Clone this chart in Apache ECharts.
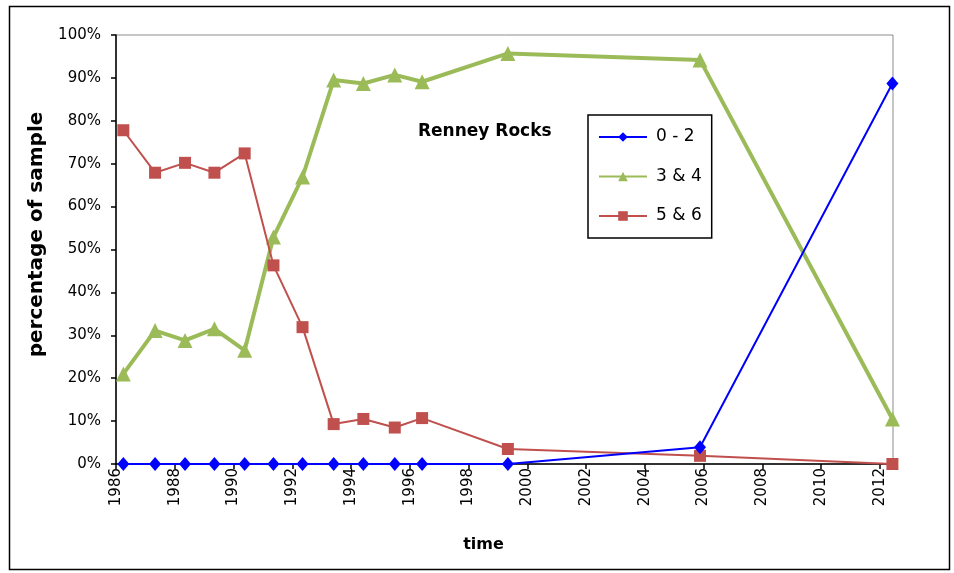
<!DOCTYPE html>
<html>
<head>
<meta charset="utf-8">
<script src="https://cdn.jsdelivr.net/npm/echarts@6/dist/echarts.min.js"></script>
<style>
html,body{margin:0;padding:0;background:#fff;}
#c{width:954px;height:573px;}
</style>
</head>
<body>
<div id="c"></div>
<script>
const years = [1986.25, 1987.33, 1988.35, 1989.35, 1990.38, 1991.36, 1992.35, 1993.41, 1994.42, 1995.49, 1996.42, 1999.34, 2005.88, 2012.43];
const s02 = [0, 0, 0, 0, 0, 0, 0, 0, 0, 0, 0, 0, 3.9, 88.7];
const s34 = [21.0, 31.1, 28.8, 31.5, 26.5, 52.9, 66.9, 89.5, 88.7, 90.7, 89.1, 95.7, 94.2, 10.5];
const s56 = [77.8, 67.9, 70.2, 67.9, 72.4, 46.3, 31.9, 9.3, 10.5, 8.5, 10.7, 3.5, 1.9, 0];
const seriesNames = ['0 - 2', '3 & 4', '5 & 6'];
const chartTitle = 'Renney Rocks';
const xName = 'time';
const yName = 'percentage of sample';

const pair = arr => years.map((y, i) => [y, arr[i]]);
const font = 'DejaVu Sans, Verdana, sans-serif';

const chart = echarts.init(document.getElementById('c'));
chart.setOption({
  animation: false,
  backgroundColor: '#fff',
  graphic: [{
    type: 'rect', left: 7, top: 4, shape: {width: 940, height: 563},
    style: {fill: 'none', stroke: '#000', lineWidth: 1.5}, silent: true, z: -1
  }],
  title: {
    text: chartTitle, left: 413, top: 118,
    textStyle: {fontFamily: font, fontSize: 17, fontWeight: 'bold', color: '#000'}
  },
  legend: {
    orient: 'vertical', left: 588, top: 115,
    data: seriesNames,
    itemWidth: 48, itemHeight: 12, itemGap: 22.5,
    padding: [13.5, 10, 13.5, 10],
    borderColor: '#000', borderWidth: 1.5, backgroundColor: '#fff',
    textStyle: {fontFamily: font, fontSize: 17, lineHeight: 17, color: '#000', padding: [0, 0, 0, 4]}
  },
  grid: {
    left: 116, right: 61, top: 35, bottom: 109,
    show: true, borderColor: '#8c8c8c', borderWidth: 1, backgroundColor: 'transparent'
  },
  xAxis: {
    type: 'value', min: 1986, max: 2012.45, interval: 2,
    name: xName, nameLocation: 'middle', nameGap: 73,
    nameTextStyle: {fontFamily: font, fontSize: 16, fontWeight: 'bold', color: '#000', padding: [0, 42, 0, 0]},
    axisLine: {show: true, onZero: false, lineStyle: {color: '#000', width: 1.5}},
    axisTick: {show: true, inside: false, length: 5, lineStyle: {color: '#000', width: 1.5}},
    axisLabel: {rotate: 90, showMaxLabel: false, fontFamily: font, fontSize: 15, color: '#000', margin: 4,
      formatter: v => (Math.abs(v - Math.round(v)) < 1e-6 ? String(Math.round(v)) : '')},
    splitLine: {show: false}
  },
  yAxis: {
    type: 'value', min: 0, max: 100, interval: 10,
    name: yName, nameLocation: 'middle', nameGap: 61,
    nameTextStyle: {fontFamily: font, fontSize: 20, fontWeight: 'bold', color: '#000', padding: [0, 0, 0, 30]},
    axisLine: {show: true, lineStyle: {color: '#000', width: 1.5}},
    axisTick: {show: true, inside: false, length: 5, lineStyle: {color: '#000', width: 1.5}},
    axisLabel: {formatter: '{value}%', fontFamily: font, fontSize: 15, color: '#000', margin: 15},
    splitLine: {show: false}
  },
  series: [
    {
      name: seriesNames[1], type: 'line', data: pair(s34), z: 3,
      symbol: 'triangle', symbolSize: 15,
      lineStyle: {color: '#9bbb59', width: 4}, itemStyle: {color: '#9bbb59'}
    },
    {
      name: seriesNames[2], type: 'line', data: pair(s56), z: 4,
      symbol: 'rect', symbolSize: 12,
      lineStyle: {color: '#c0504d', width: 2}, itemStyle: {color: '#c0504d'}
    },
    {
      name: seriesNames[0], type: 'line', data: pair(s02), z: 5,
      symbol: 'diamond', symbolSize: [12, 14],
      lineStyle: {color: '#0000ff', width: 2}, itemStyle: {color: '#0000ff', borderWidth: 0}
    }
  ]
});
</script>
</body>
</html>
